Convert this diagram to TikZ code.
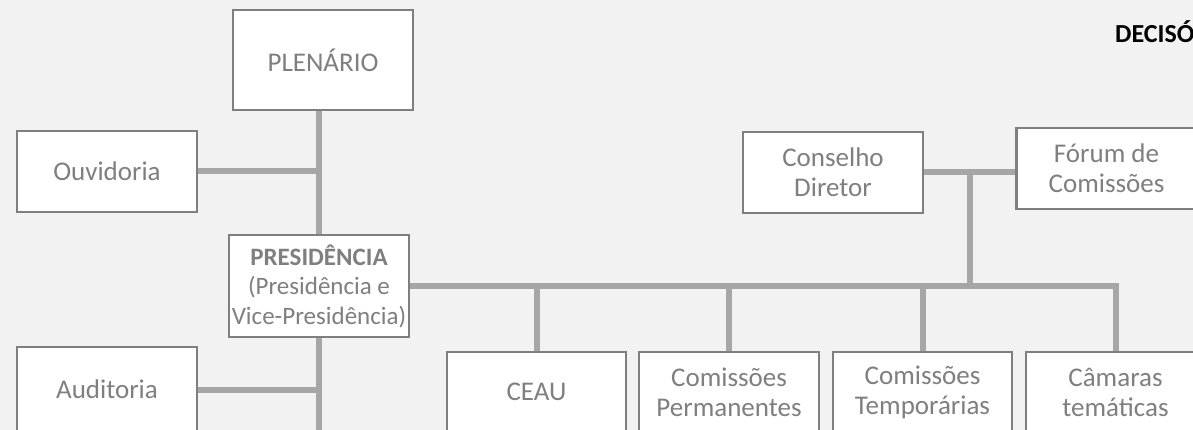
\documentclass[tikz,border=0pt]{standalone}
\usepackage{fontspec}
\setmainfont{Carlito}
\usetikzlibrary{backgrounds}
\definecolor{bgray}{HTML}{F2F2F2}
\definecolor{lgray}{HTML}{A6A6A6}
\definecolor{dgray}{HTML}{7F7F7F}

\begin{document}
\begin{tikzpicture}[x=1pt, y=-1pt]
    \tikzset{%
      box/.style={rectangle, draw=dgray, line width=2.5pt, fill=white,
        text=dgray, align=center, inner sep=0pt, minimum width=180pt,
        font=\fontsize{27}{30}\selectfont},
      link/.style={lgray, line width=6pt},
      title/.style={anchor=base west, inner sep=0pt,
        font=\fontsize{26}{30}\selectfont\bfseries},
    }
    \path[use as bounding box] (0,0) rectangle (1193,430);
    \clip (0,0) rectangle (1193,430);

    \node[box, minimum height=100pt] (plenario) at (323,60) {PLEN\'ARIO};
    \node[box, minimum height=81pt] (ouvidoria) at (107,171.5) {Ouvidoria};
    \node[box, minimum height=102pt, font=\fontsize{25}{29.5}\selectfont] (presid) at (319,286)
      {\textbf{PRESIDÊNCIA}\\(Presidência e\\Vice-Presidência)};
    \node[box, minimum height=85pt] (auditoria) at (107,389.5) {Auditoria};

    \node[box, minimum height=81pt] (conselho) at (833,172.5) {Conselho\\Diretor};
    \node[box, minimum height=81pt] (forum) at (1106.5,168.5) {Fórum de\\Comissões};

    \node[box, minimum height=80pt, minimum width=179pt] (ceau) at (536.5,392) {CEAU};
    \node[box, minimum height=80pt] (cperm) at (729,392) {Comissões\\Permanentes};
    \node[box, minimum height=80pt, minimum width=179pt] (ctemp) at (922.5,392) {Comissões\\Temporárias};
    \node[box, minimum height=80pt, minimum width=179pt] (camaras) at (1115.5,392) {Câmaras\\temáticas};

    \node[title] (decis) at (1115,43) {DECISÓ};

    \coordinate (trunk) at (320,440);
    \coordinate (junc) at (970,172.5);

    \begin{scope}[on background layer]
    \fill[bgray] (0,0) rectangle (1193,430);
    % left trunk
    \draw[link] (presid.north |- plenario.south) -- (presid.north);
    \draw[link] (presid.south) -- (presid.south |- trunk);
    \draw[link] (ouvidoria.east) -- (ouvidoria.east -| presid.north);
    \draw[link] (auditoria.east) -- (auditoria.east -| presid.south);
    % bus
    \draw[link] (presid.east) -- (camaras.north |- presid.east) -- (camaras.north);
    \draw[link] (ceau.north) -- (ceau.north |- presid.east);
    \draw[link] (cperm.north) -- (cperm.north |- presid.east);
    \draw[link] (ctemp.north) -- (ctemp.north |- presid.east);
    % upper right
    \draw[link] (conselho.east) -- (conselho.east -| forum.west);
    \draw[link] (junc) -- (junc |- presid.east);
    \end{scope}
\end{tikzpicture}
\end{document}
